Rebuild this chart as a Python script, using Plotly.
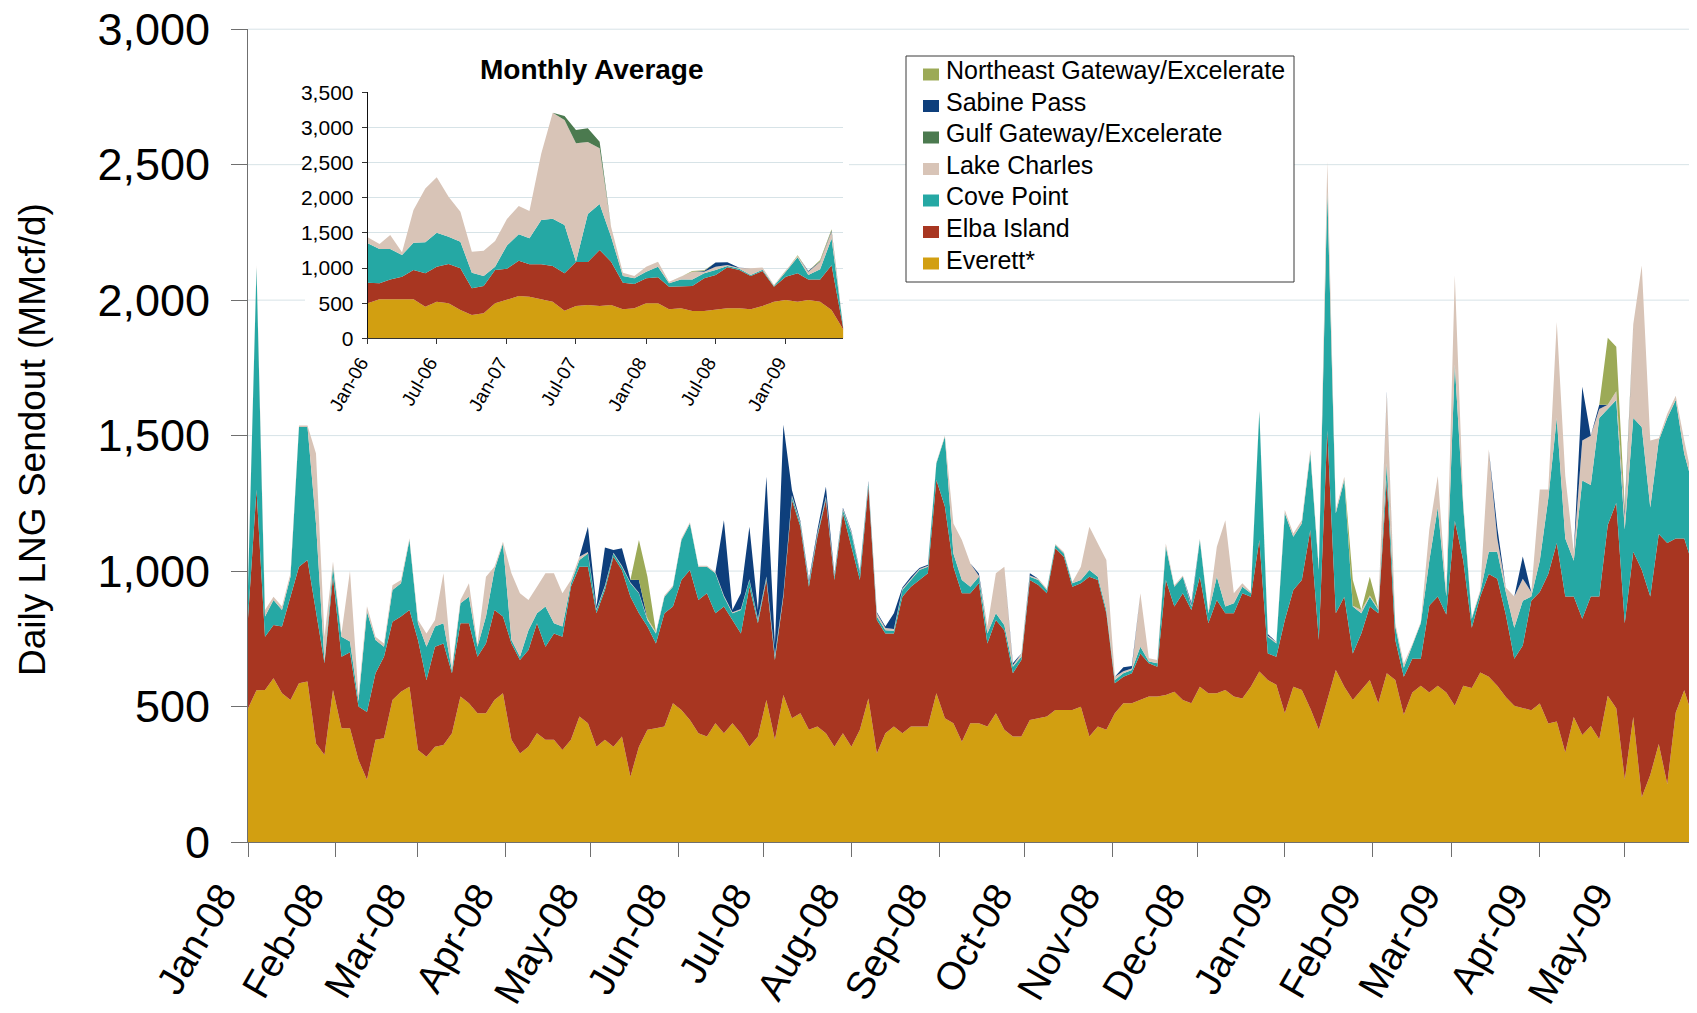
import pandas as pd
import plotly.graph_objects as go

# page is rendered with an 8px body margin, so the figure is 8px smaller
W, H = 1697, 1013
OFF = 8
FW, FH = W - OFF, H - OFF

# ---------------- Daily send-out (every 3rd day from 1 Jan 2008), MMcf/d ----------------
daily_start = "2008-01-01"
everett = [
    493, 560, 561, 604, 549, 524, 586, 592, 364, 321,
    561, 420, 420, 303, 230, 377, 383, 524, 555, 573,
    340, 315, 352, 358, 401, 537, 512, 475, 475, 524,
    549, 377, 327, 352, 401, 377, 377, 340, 377, 463,
    438, 352, 377, 352, 389, 241, 352, 414, 420, 426,
    512, 487, 450, 401, 389, 438, 401, 438, 401, 352,
    389, 524, 377, 543, 457, 475, 414, 426, 401, 352,
    401, 352, 414, 530, 327, 401, 426, 401, 426, 426,
    426, 549, 457, 438, 370, 438, 438, 426, 475, 414,
    389, 389, 450, 457, 463, 487, 487, 487, 499, 389,
    426, 414, 475, 512, 512, 524, 537, 537, 543, 555,
    524, 512, 573, 549, 549, 561, 537, 530, 573, 629,
    598, 580, 475, 573, 561, 493, 414, 524, 635, 573,
    524, 561, 598, 512, 623, 598, 470, 552, 577, 552,
    577, 552, 503, 577, 568, 626, 610, 577, 535, 503,
    494, 486, 511, 437, 445, 330, 461, 395, 428, 379,
    540, 494, 231, 461, 165, 247, 362, 214, 478, 560,
    461, 445]
elba_island = [
    333, 740, 197, 197, 246, 381, 430, 449, 492, 339,
    418, 264, 280, 197, 250, 246, 301, 289, 277, 283,
    406, 283, 369, 375, 222, 270, 295, 209, 258, 332,
    283, 356, 345, 357, 406, 344, 393, 418, 565, 553,
    578, 492, 553, 701, 615, 664, 492, 381, 313, 418,
    357, 480, 554, 492, 529, 406, 468, 381, 369, 590,
    418, 443, 295, 362, 805, 689, 528, 701, 861, 615,
    812, 738, 553, 781, 492, 369, 344, 504, 516, 541,
    566, 787, 781, 578, 548, 480, 517, 307, 344, 368,
    234, 283, 517, 492, 455, 597, 566, 455, 456, 590,
    541, 430, 111, 98, 111, 172, 123, 110, 424, 314,
    394, 344, 406, 258, 344, 283, 307, 388, 332, 486,
    98, 104, 344, 357, 406, 659, 332, 996, 209, 332,
    172, 209, 271, 332, 713, 148, 140, 124, 99, 321,
    329, 288, 683, 461, 223, 280, 379, 395, 305, 173,
    231, 404, 412, 552, 659, 576, 445, 429, 478, 527,
    630, 758, 576, 610, 840, 659, 775, 890, 642, 560,
    560, 659]
cove_point = [
    116, 820, 74, 92, 61, 74, 516, 491, 320, 6,
    37, 74, 40, 20, 370, 123, 37, 117, 123, 259,
    61, 123, 74, 74, 10, 74, 98, 37, 99, 148,
    270, 13, 12, 73, 37, 148, 37, 37, 13, 25,
    49, 12, 12, 12, 12, 50, 74, 24, 37, 61,
    73, 148, 172, 123, 98, 148, 36, 25, 86, 25,
    12, 8, 12, 5, 12, 12, 13, 8, 8, 12,
    12, 49, 25, 13, 13, 12, 10, 25, 25, 37,
    24, 62, 258, 49, 49, 24, 24, 37, 25, 18,
    24, 12, 12, 18, 12, 12, 12, 13, 12, 25,
    12, 12, 12, 13, 12, 25, 6, 13, 123, 73,
    61, 13, 136, 37, 86, 25, 37, 24, 13, 473,
    62, 49, 394, 197, 209, 282, 258, 880, 369, 431,
    173, 74, 36, 12, 62, 49, 33, 49, 131, 165,
    329, 66, 576, 197, 33, 17, 82, 99, 83, 115,
    165, 16, 115, 279, 461, 214, 132, 510, 412, 659,
    428, 379, 346, 494, 527, 329, 345, 461, 511, 313,
    297, 378]
lake_charles = [
    6, 10, 24, 12, 13, 13, 5, 5, 258, 92,
    19, 12, 260, 20, 20, 12, 12, 18, 12, 6,
    12, 49, 24, 185, 12, 12, 50, 10, 147, 12,
    6, 246, 234, 111, 98, 123, 185, 123, 12, 12,
    5, 4, 5, 3, 4, 3, 2, 6, 5, 5,
    5, 5, 4, 4, 4, 4, 5, 4, 4, 3,
    5, 5, 6, 5, 6, 4, 5, 5, 5, 5,
    5, 5, 4, 4, 12, 8, 6, 5, 5, 4,
    4, 4, 4, 111, 148, 86, 4, 25, 148, 216,
    5, 12, 5, 5, 5, 4, 5, 5, 49, 160,
    123, 185, 12, 7, 5, 197, 12, 12, 12, 6,
    5, 5, 5, 6, 111, 319, 37, 13, 5, 6,
    4, 5, 12, 12, 12, 13, 12, 112, 12, 12,
    3, 12, 5, 6, 258, 12, 16, 5, 5, 115,
    116, 17, 330, 17, 6, 7, 379, 49, 16, 115,
    82, 17, 263, 33, 354, 231, 33, 148, 181, 33,
    16, 33, 49, 346, 596, 247, 8, 16, 16, 49,
    16, 8]
sabine_pass = [
    0, 0, 0, 0, 0, 0, 0, 0, 0, 0,
    0, 0, 0, 0, 0, 0, 0, 0, 0, 0,
    0, 0, 0, 0, 0, 0, 0, 0, 0, 0,
    0, 0, 0, 0, 0, 0, 0, 0, 0, 0,
    94, 9, 140, 10, 64, 10, 47, 0, 0, 0,
    0, 0, 0, 0, 0, 0, 278, 8, 58, 194,
    32, 368, 37, 625, 19, 5, 7, 12, 36, 4,
    4, 4, 4, 4, 4, 5, 58, 4, 7, 3,
    3, 0, 0, 0, 0, 0, 8, 0, 0, 0,
    8, 0, 8, 0, 0, 0, 0, 0, 0, 0,
    0, 0, 0, 15, 10, 0, 0, 0, 0, 0,
    0, 8, 0, 0, 0, 0, 0, 0, 0, 0,
    6, 0, 0, 0, 0, 0, 0, 0, 0, 0,
    0, 0, 0, 0, 6, 0, 0, 0, 0, 0,
    0, 0, 0, 0, 0, 0, 0, 41, 0, 0,
    82, 0, 0, 0, 0, 0, 0, 198, 0, 16,
    0, 0, 17, 0, 0, 0, 0, 0, 0, 0,
    0, 0]
northeast_gateway = [
    0, 0, 0, 0, 0, 0, 0, 0, 0, 0,
    0, 0, 0, 0, 0, 0, 0, 0, 0, 0,
    0, 0, 0, 0, 0, 0, 0, 0, 0, 0,
    0, 0, 0, 0, 0, 0, 0, 0, 0, 0,
    0, 0, 0, 0, 0, 0, 148, 154, 0, 0,
    0, 0, 0, 0, 0, 0, 0, 0, 0, 0,
    0, 0, 0, 0, 0, 0, 0, 0, 0, 0,
    0, 0, 0, 0, 0, 0, 0, 0, 0, 0,
    0, 0, 0, 0, 0, 0, 0, 0, 0, 0,
    0, 0, 0, 0, 0, 0, 0, 0, 0, 0,
    0, 0, 0, 0, 0, 0, 0, 0, 0, 0,
    0, 0, 0, 0, 0, 0, 0, 0, 0, 0,
    0, 0, 0, 0, 0, 0, 0, 0, 0, 0,
    95, 0, 69, 0, 0, 0, 0, 0, 0, 0,
    0, 0, 0, 0, 0, 0, 0, 0, 0, 0,
    0, 0, 0, 0, 0, 0, 0, 0, 0, 0,
    247, 164, 16, 0, 0, 0, 0, 0, 0, 0,
    0, 0]

main_tick_labels = ["Jan-08", "Feb-08", "Mar-08", "Apr-08", "May-08", "Jun-08",
                    "Jul-08", "Aug-08", "Sep-08", "Oct-08", "Nov-08", "Dec-08",
                    "Jan-09", "Feb-09", "Mar-09", "Apr-09", "May-09"]
main_y_ticks = [0, 500, 1000, 1500, 2000, 2500, 3000]
main_y_labels = ["0", "500", "1,000", "1,500", "2,000", "2,500", "3,000"]

# ---------------- Monthly averages (Jan-06 .. Jun-09), MMcf/d ----------------
monthly_start = "2006-01-01"
everett_m = [497, 554, 554, 554, 554, 450, 521, 497, 402, 331, 355, 497,
             554, 601, 592, 554, 521, 393, 459, 474, 459, 474, 412, 427,
             497, 497, 412, 427, 388, 388, 402, 427, 427, 412, 459, 521,
             545, 521, 545, 521, 402, 120]
elba_m = [294, 228, 284, 322, 417, 474, 498, 560, 593, 380, 389, 474,
          436, 503, 460, 498, 507, 531, 626, 611, 797, 616, 379, 345,
          356, 370, 322, 307, 356, 465, 498, 583, 544, 474, 498, 213,
          331, 403, 293, 317, 638, 10]
cove_m = [560, 488, 432, 309, 389, 441, 484, 389, 380, 222, 142, 48,
          332, 375, 370, 631, 674, 688, 5, 683, 654, 356, 95, 81,
          95, 152, 48, 104, 94, 71, 71, 18, 19, 14, 18, 10,
          72, 228, 62, 143, 380, 10]
lake_m = [85, 71, 199, 38, 465, 768, 787, 569, 426, 299, 361, 365,
          375, 403, 389, 948, 1508, 1494, 1684, 1025, 793, 142, 47, 33,
          71, 71, 23, 38, 110, 24, 48, 15, 10, 95, 34, 14,
          14, 19, 48, 109, 100, 0]
gulf_m = [0, 0, 0, 0, 0, 0, 0, 0, 0, 0, 0, 0,
          0, 0, 0, 0, 0, 57, 189, 194, 94, 0, 0, 0,
          0, 0, 0, 0, 0, 0, 0, 0, 0, 0, 0, 0,
          0, 0, 0, 0, 0, 0]
sabine_m = [0, 0, 0, 0, 0, 0, 0, 0, 0, 0, 0, 0,
            0, 0, 0, 0, 0, 0, 0, 0, 0, 0, 0, 0,
            0, 0, 0, 0, 0, 10, 60, 40, 5, 0, 0, 0,
            0, 0, 8, 5, 15, 0]
ne_m = [0, 0, 0, 0, 0, 0, 0, 0, 0, 0, 0, 0,
        0, 0, 0, 0, 0, 0, 0, 0, 0, 0, 0, 0,
        0, 0, 0, 0, 10, 10, 0, 0, 0, 0, 0, 0,
        0, 12, 0, 20, 15, 0]
inset_tick_labels = ["Jan-06", "Jul-06", "Jan-07", "Jul-07", "Jan-08", "Jul-08", "Jan-09"]
inset_y_ticks = [0, 500, 1000, 1500, 2000, 2500, 3000, 3500]
inset_y_labels = ["0", "500", "1,000", "1,500", "2,000", "2,500", "3,000", "3,500"]

# ---------------- styling ----------------
COLORS = {
    "Northeast Gateway/Excelerate": "#9CAA57",
    "Sabine Pass": "#0E3F7C",
    "Gulf Gateway/Excelerate": "#4B7A4F",
    "Lake Charles": "#D8C4B7",
    "Cove Point": "#25A8A4",
    "Elba Island": "#A83621",
    "Everett*": "#D29F11",
}
FONT = "Liberation Sans, Arial, sans-serif"
GRID = "#d7e3e7"

MAIN_LEFT, MAIN_TOP, MAIN_BOTTOM = 248, 29.2, 842


def px(x):
    """reference pixel x -> paper fraction"""
    return (x - OFF) / FW


def py(y):
    """reference pixel y -> paper fraction"""
    return 1 - (y - OFF) / FH


daily_dates = pd.date_range(daily_start, periods=len(everett), freq="3D")
monthly_dates = pd.date_range(monthly_start, periods=len(everett_m), freq="MS")
main_ticks = pd.date_range("2008-01-01", periods=len(main_tick_labels), freq="MS")
inset_ticks = pd.date_range("2006-01-01", periods=len(inset_tick_labels), freq="6MS")

fig = go.Figure()

main_series = [
    ("Everett*", everett), ("Elba Island", elba_island), ("Cove Point", cove_point),
    ("Lake Charles", lake_charles), ("Sabine Pass", sabine_pass),
    ("Northeast Gateway/Excelerate", northeast_gateway),
]
for name, vals in main_series:
    fig.add_trace(go.Scatter(
        x=daily_dates, y=vals, name=name, stackgroup="daily", mode="lines",
        line=dict(width=0, color=COLORS[name]), fillcolor=COLORS[name],
        showlegend=False, xaxis="x", yaxis="y"))

inset_series = [
    ("Everett*", everett_m), ("Elba Island", elba_m), ("Cove Point", cove_m),
    ("Lake Charles", lake_m), ("Gulf Gateway/Excelerate", gulf_m),
    ("Sabine Pass", sabine_m), ("Northeast Gateway/Excelerate", ne_m),
]
for name, vals in inset_series:
    fig.add_trace(go.Scatter(
        x=monthly_dates, y=vals, name=name, stackgroup="monthly", mode="lines",
        line=dict(width=0, color=COLORS[name]), fillcolor=COLORS[name],
        showlegend=False, xaxis="x2", yaxis="y2"))

shapes = []
# main grid lines, interrupted by the inset and legend boxes
grid_segments = {
    500: [(248, 1697)], 1000: [(248, 1697)], 1500: [(248, 1697)],
    2000: [(248, 305), (849, 1697)],
    2500: [(248, 305), (849, 906), (1294, 1697)],
}
for val, segs in grid_segments.items():
    for a, b in segs:
        shapes.append(dict(type="line", xref="paper", yref="y", x0=px(a), x1=px(b),
                           y0=val, y1=val, layer="below",
                           line=dict(color=GRID, width=1)))
# top grid line sits on the upper edge of the plot area
shapes.append(dict(type="line", xref="paper", yref="paper", x0=px(MAIN_LEFT), x1=1.0,
                   y0=py(MAIN_TOP), y1=py(MAIN_TOP), layer="below",
                   line=dict(color=GRID, width=1)))

# legend box
shapes.append(dict(type="rect", xref="paper", yref="paper", x0=px(906), x1=px(1294),
                   y0=py(282), y1=py(56), layer="above", fillcolor="white",
                   line=dict(color="#3a3a3a", width=1)))
legend_order = ["Northeast Gateway/Excelerate", "Sabine Pass", "Gulf Gateway/Excelerate",
                "Lake Charles", "Cove Point", "Elba Island", "Everett*"]
annotations = []
for i, name in enumerate(legend_order):
    cy = 74.5 + 31.5 * i
    shapes.append(dict(type="rect", xref="paper", yref="paper", x0=px(923), x1=px(939),
                       y0=py(cy + 6), y1=py(cy - 6), layer="above",
                       fillcolor=COLORS[name], line=dict(width=0)))
    annotations.append(dict(text=name, xref="paper", yref="paper", x=px(944), y=py(cy - 4),
                            xanchor="left", yanchor="middle", showarrow=False,
                            font=dict(family=FONT, size=25, color="black")))

annotations.append(dict(text="<b>Monthly Average</b>", xref="paper", yref="paper",
                        x=px(592), y=py(69), xanchor="center", yanchor="middle",
                        showarrow=False, font=dict(family=FONT, size=28, color="black")))
annotations.append(dict(text="Daily LNG Sendout (MMcf/d)", xref="paper", yref="paper",
                        x=px(32), y=py(440), xanchor="center", yanchor="middle",
                        textangle=-90, showarrow=False,
                        font=dict(family=FONT, size=37, color="black")))

fig.update_layout(
    template="none",
    width=FW, height=FH,
    margin=dict(l=0, r=0, t=0, b=0),
    paper_bgcolor="white", plot_bgcolor="white",
    showlegend=False,
    font=dict(family=FONT, color="black"),
    shapes=shapes, annotations=annotations,
    xaxis=dict(domain=[px(MAIN_LEFT), 1.0], anchor="y", type="date",
               range=["2008-01-01", "2009-05-26 12:00"],
               tickmode="array", tickvals=main_ticks, ticktext=main_tick_labels,
               tickangle=-60, tickfont=dict(family=FONT, size=39, color="black"),
               ticklabelshift=-27, ticklabeloverflow="allow",
               ticks="outside", ticklen=14, tickcolor="#6f6f6f", tickwidth=1,
               showline=True, linecolor="#6f6f6f", linewidth=1,
               showgrid=False, zeroline=False, automargin=False),
    yaxis=dict(domain=[py(MAIN_BOTTOM), py(MAIN_TOP)], anchor="x", range=[0, 3000],
               tickmode="array", tickvals=main_y_ticks, ticktext=main_y_labels,
               tickfont=dict(family=FONT, size=45, color="black"),
               ticklabelstandoff=12, ticklabeloverflow="allow",
               ticks="outside", ticklen=16, tickcolor="#6f6f6f", tickwidth=1,
               showline=True, linecolor="#6f6f6f", linewidth=1,
               showgrid=False, zeroline=False, automargin=False),
    xaxis2=dict(domain=[px(367.7), px(843.4)], anchor="y2", type="date",
                range=["2006-01-01", "2009-06-01"],
                tickmode="array", tickvals=inset_ticks, ticktext=inset_tick_labels,
                tickangle=-60, tickfont=dict(family=FONT, size=19, color="black"),
                ticklabelshift=-7, ticklabeloverflow="allow",
                ticks="outside", ticklen=5, tickcolor="#333333",
                showline=True, linecolor="#333333", linewidth=1,
                showgrid=False, zeroline=False, automargin=False),
    yaxis2=dict(domain=[py(338.3), py(92.3)], anchor="x2", range=[0, 3500],
                tickmode="array", tickvals=inset_y_ticks, ticktext=inset_y_labels,
                tickfont=dict(family=FONT, size=21, color="black"),
                ticklabelstandoff=4, ticklabeloverflow="allow",
                ticks="outside", ticklen=5, tickcolor="#333333",
                showline=True, linecolor="#111111", linewidth=1,
                showgrid=True, gridcolor=GRID, gridwidth=1,
                zeroline=False, automargin=False),
)

fig.write_html("out.html")
